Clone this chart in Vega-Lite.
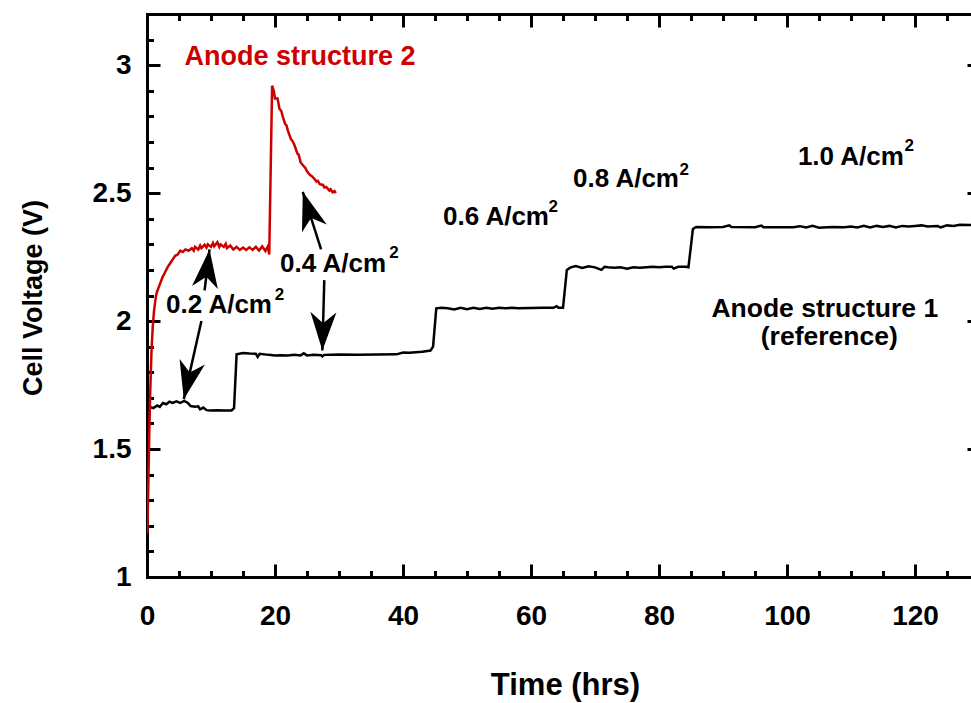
{
  "$schema": "https://vega.github.io/schema/vega-lite/v6.json",
  "width": 824,
  "height": 563,
  "autosize": {"type": "none"},
  "padding": {"left": 147, "top": 14, "right": 0, "bottom": 126},
  "background": "white",
  "config": {
    "view": {"stroke": null},
    "axis": {
      "grid": false, "domainColor": "black", "tickColor": "black", "labelColor": "black", "titleColor": "black",
      "labelFont": "Liberation Sans", "titleFont": "Liberation Sans", "labelFontWeight": "bold", "titleFontWeight": "bold",
      "domainWidth": 3, "tickWidth": 3, "domainCap": "square", "tickCap": "butt", "labelFlush": false
    },
    "text": {"font": "Liberation Sans", "fontWeight": "bold"}
  },
  "datasets": {
    "anode1": [
      {"t":0.1,"v":1.60},{"t":0.4,"v":1.665},{"t":1.0,"v":1.66},{"t":1.6,"v":1.67},{"t":2.0,"v":1.665},{"t":2.5,"v":1.68},{"t":3.0,"v":1.675},{"t":3.5,"v":1.685},{"t":4.0,"v":1.68},{"t":4.6,"v":1.686},{"t":5.2,"v":1.68},{"t":5.8,"v":1.688},{"t":6.4,"v":1.68},{"t":6.8,"v":1.668},{"t":7.5,"v":1.665},{"t":8.0,"v":1.667},{"t":8.3,"v":1.655},{"t":8.8,"v":1.662},{"t":9.3,"v":1.652},{"t":10.0,"v":1.651},{"t":11.0,"v":1.652},{"t":12.0,"v":1.651},{"t":13.2,"v":1.651},{"t":13.6,"v":1.66},{"t":14.0,"v":1.87},{"t":15,"v":1.875},{"t":16,"v":1.873},{"t":17,"v":1.872},{"t":17.3,"v":1.86},{"t":17.6,"v":1.872},{"t":19,"v":1.868},{"t":20,"v":1.866},{"t":21,"v":1.867},{"t":22,"v":1.866},{"t":23,"v":1.868},{"t":24,"v":1.866},{"t":24.5,"v":1.874},{"t":25,"v":1.866},{"t":26,"v":1.868},{"t":27.2,"v":1.867},{"t":27.4,"v":1.862},{"t":27.7,"v":1.868},{"t":30,"v":1.869},{"t":33,"v":1.868},{"t":36,"v":1.869},{"t":39,"v":1.87},{"t":40,"v":1.877},{"t":41,"v":1.876},{"t":42,"v":1.878},{"t":43,"v":1.88},{"t":44.3,"v":1.885},{"t":44.7,"v":1.90},{"t":45.2,"v":2.05},{"t":46,"v":2.052},{"t":47,"v":2.05},{"t":48,"v":2.045},{"t":49,"v":2.052},{"t":50,"v":2.046},{"t":51,"v":2.052},{"t":52,"v":2.047},{"t":53,"v":2.052},{"t":54,"v":2.048},{"t":55,"v":2.052},{"t":56,"v":2.05},{"t":57,"v":2.052},{"t":58,"v":2.05},{"t":60,"v":2.051},{"t":62,"v":2.052},{"t":63.5,"v":2.052},{"t":64.0,"v":2.058},{"t":64.3,"v":2.052},{"t":65.0,"v":2.052},{"t":65.6,"v":2.2},{"t":66.2,"v":2.21},{"t":67,"v":2.215},{"t":68,"v":2.208},{"t":69,"v":2.214},{"t":70,"v":2.21},{"t":71,"v":2.2},{"t":71.5,"v":2.212},{"t":72,"v":2.21},{"t":73,"v":2.208},{"t":74,"v":2.21},{"t":75,"v":2.205},{"t":76,"v":2.21},{"t":77,"v":2.208},{"t":78,"v":2.21},{"t":79,"v":2.212},{"t":80,"v":2.21},{"t":81,"v":2.212},{"t":82,"v":2.212},{"t":82.3,"v":2.205},{"t":83,"v":2.212},{"t":84.2,"v":2.212},{"t":84.6,"v":2.21},{"t":85.3,"v":2.36},{"t":85.8,"v":2.368},{"t":88,"v":2.367},{"t":90,"v":2.368},{"t":91,"v":2.374},{"t":91.3,"v":2.368},{"t":95,"v":2.367},{"t":96,"v":2.373},{"t":96.3,"v":2.367},{"t":100,"v":2.367},{"t":101,"v":2.367},{"t":102,"v":2.371},{"t":103,"v":2.366},{"t":104,"v":2.372},{"t":105,"v":2.365},{"t":107,"v":2.368},{"t":109,"v":2.367},{"t":110,"v":2.37},{"t":111,"v":2.366},{"t":112,"v":2.372},{"t":113,"v":2.366},{"t":114,"v":2.372},{"t":115,"v":2.368},{"t":116,"v":2.372},{"t":117,"v":2.366},{"t":118,"v":2.372},{"t":119,"v":2.37},{"t":120,"v":2.372},{"t":121,"v":2.374},{"t":122,"v":2.37},{"t":123.5,"v":2.372},{"t":124,"v":2.366},{"t":125,"v":2.374},{"t":126,"v":2.372},{"t":127,"v":2.376},{"t":128.75,"v":2.375}
    ],
    "anode2": [
      {"t":0.05,"v":1.17},{"t":0.2,"v":1.35},{"t":0.35,"v":1.55},{"t":0.5,"v":1.72},{"t":0.7,"v":1.88},{"t":0.9,"v":1.98},{"t":1.1,"v":2.04},{"t":1.3,"v":2.08},{"t":1.5,"v":2.11},{"t":1.8,"v":2.13},{"t":2.1,"v":2.15},{"t":2.4,"v":2.17},{"t":2.8,"v":2.19},{"t":3.2,"v":2.21},{"t":3.6,"v":2.225},{"t":4.0,"v":2.24},{"t":4.4,"v":2.255},{"t":4.8,"v":2.26},{"t":5.2,"v":2.275},{"t":5.6,"v":2.27},{"t":6.0,"v":2.28},{"t":6.5,"v":2.275},{"t":7.0,"v":2.285},{"t":7.3,"v":2.275},{"t":7.5,"v":2.29},{"t":8.0,"v":2.28},{"t":8.3,"v":2.295},{"t":8.5,"v":2.285},{"t":9.0,"v":2.298},{"t":9.3,"v":2.287},{"t":9.5,"v":2.3},{"t":10.0,"v":2.29},{"t":10.3,"v":2.305},{"t":10.5,"v":2.292},{"t":11.0,"v":2.308},{"t":11.3,"v":2.29},{"t":11.5,"v":2.3},{"t":12.0,"v":2.29},{"t":12.3,"v":2.302},{"t":12.5,"v":2.285},{"t":13.0,"v":2.295},{"t":13.5,"v":2.28},{"t":14.0,"v":2.29},{"t":14.5,"v":2.278},{"t":15.0,"v":2.287},{"t":15.5,"v":2.278},{"t":16.0,"v":2.288},{"t":16.5,"v":2.278},{"t":17.0,"v":2.29},{"t":17.5,"v":2.276},{"t":18.0,"v":2.292},{"t":18.5,"v":2.274},{"t":18.9,"v":2.293},{"t":19.1,"v":2.26},{"t":19.55,"v":2.92},{"t":19.8,"v":2.90},{"t":20.0,"v":2.87},{"t":20.4,"v":2.87},{"t":20.7,"v":2.83},{"t":21.0,"v":2.82},{"t":21.2,"v":2.80},{"t":21.6,"v":2.77},{"t":21.8,"v":2.765},{"t":22.0,"v":2.745},{"t":22.5,"v":2.71},{"t":22.7,"v":2.705},{"t":23.0,"v":2.69},{"t":23.5,"v":2.655},{"t":23.7,"v":2.65},{"t":24.0,"v":2.62},{"t":24.5,"v":2.605},{"t":24.7,"v":2.6},{"t":25.0,"v":2.585},{"t":25.5,"v":2.57},{"t":25.7,"v":2.568},{"t":26.0,"v":2.56},{"t":26.5,"v":2.545},{"t":26.7,"v":2.548},{"t":27.0,"v":2.535},{"t":27.5,"v":2.532},{"t":27.7,"v":2.522},{"t":28.0,"v":2.524},{"t":28.5,"v":2.51},{"t":28.7,"v":2.515},{"t":29.0,"v":2.503},{"t":29.3,"v":2.508},{"t":29.5,"v":2.50}
    ],
    "arrows": [
      {"t":9.0,"v":2.12,"t2":9.77,"v2":2.28},
      {"t":8.5,"v":2.00,"t2":5.75,"v2":1.695},
      {"t":27.2,"v":2.28,"t2":24.34,"v2":2.505},
      {"t":27.7,"v":2.16,"t2":27.4,"v2":1.885}
    ],
    "currents": [
      {"t":2.97,"v":2.031,"label":"0.2 A/cm"},
      {"t":20.8,"v":2.191,"label":"0.4 A/cm"},
      {"t":46.25,"v":2.375,"label":"0.6 A/cm"},
      {"t":66.56,"v":2.523,"label":"0.8 A/cm"},
      {"t":101.7,"v":2.609,"label":"1.0 A/cm"}
    ],
    "sups": [
      {"t":19.95,"v":2.082,"label":"2"},
      {"t":37.85,"v":2.246,"label":"2"},
      {"t":62.75,"v":2.426,"label":"2"},
      {"t":83.2,"v":2.570,"label":"2"},
      {"t":118.35,"v":2.664,"label":"2"}
    ],
    "names": [
      {"t":105.9,"v":2.016,"label":"Anode structure 1"},
      {"t":106.6,"v":1.906,"label":"(reference)"}
    ],
    "redname": [
      {"t":23.9,"v":3.0,"label":"Anode structure 2"}
    ]
  },
  "resolve": {"axis": {"x": "independent", "y": "independent"}},
  "layer": [
    {
      "data": {"name": "anode1"},
      "mark": {"type": "line", "color": "black", "strokeWidth": 2.5, "clip": true},
      "encoding": {
        "x": {"field": "t", "type": "quantitative", "scale": {"domain": [0, 128.75], "nice": false, "zero": false},
          "axis": {"orient": "bottom", "values": [0,20,40,60,80,100,120], "format": "d", "tickSize": -13, "labelPadding": 38, "labelFontSize": 28,
            "title": "Time (hrs)", "titleFontSize": 31, "titleX": 418, "titleY": 117, "titleBaseline": "alphabetic", "titleAlign": "center"}},
        "y": {"field": "v", "type": "quantitative", "scale": {"domain": [1, 3.2], "nice": false, "zero": false},
          "axis": {"orient": "left", "values": [1,1.5,2,2.5,3], "format": ".1~f", "tickSize": -13, "labelPadding": 29, "labelFontSize": 28,
            "title": "Cell Voltage (V)", "titleFontSize": 27, "titleX": -106, "titleY": 283.5, "titleBaseline": "alphabetic", "titleAlign": "center", "titleAngle": -90}}
      }
    },
    {
      "data": {"name": "anode2"},
      "mark": {"type": "line", "color": "#cc0000", "strokeWidth": 2.5, "clip": true},
      "encoding": {
        "x": {"field": "t", "type": "quantitative", "scale": {"domain": [0, 128.75], "nice": false, "zero": false},
          "axis": {"orient": "bottom", "values": [5,10,15,25,30,35,45,50,55,65,70,75,85,90,95,105,110,115,125], "tickSize": -6.5, "labels": false, "domain": false, "title": null}},
        "y": {"field": "v", "type": "quantitative", "scale": {"domain": [1, 3.2], "nice": false, "zero": false},
          "axis": {"orient": "left", "values": [1.1,1.2,1.3,1.4,1.6,1.7,1.8,1.9,2.1,2.2,2.3,2.4,2.6,2.7,2.8,2.9,3.1], "tickSize": -6.5, "labels": false, "domain": false, "title": null}}
      }
    },
    {
      "data": {"name": "arrows"},
      "mark": {"type": "rule", "color": "black", "strokeWidth": 2.5},
      "encoding": {
        "x": {"field": "t", "type": "quantitative", "scale": {"domain": [0, 128.75], "nice": false, "zero": false},
          "axis": {"orient": "top", "values": [0,20,40,60,80,100,120], "tickSize": -13, "labels": false, "domain": true, "title": null}},
        "y": {"field": "v", "type": "quantitative", "scale": {"domain": [1, 3.2], "nice": false, "zero": false},
          "axis": {"orient": "right", "offset": 9, "values": [1,1.5,2,2.5,3], "tickSize": -13, "labels": false, "domain": true, "title": null}},
        "x2": {"field": "t2"},
        "y2": {"field": "v2"}
      }
    },
    {
      "data": {"name": "arrows"},
      "transform": [{"calculate": "atan2((datum.t2 - datum.t) * 6.4, (datum.v2 - datum.v) * 256) * 180 / PI", "as": "ang"}],
      "mark": {"type": "point", "shape": "M0,0 L0.95,2.8 L0,2 L-0.95,2.8 Z", "filled": true, "size": 750, "color": "black", "opacity": 1, "strokeWidth": 0},
      "encoding": {
        "x": {"field": "t2", "type": "quantitative", "scale": {"domain": [0, 128.75], "nice": false, "zero": false},
          "axis": {"orient": "top", "values": [5,10,15,25,30,35,45,50,55,65,70,75,85,90,95,105,110,115,125], "tickSize": -6.5, "labels": false, "domain": false, "title": null}},
        "y": {"field": "v2", "type": "quantitative", "scale": {"domain": [1, 3.2], "nice": false, "zero": false},
          "axis": {"orient": "right", "offset": 9, "values": [1.1,1.2,1.3,1.4,1.6,1.7,1.8,1.9,2.1,2.2,2.3,2.4,2.6,2.7,2.8,2.9,3.1], "tickSize": -6.5, "labels": false, "domain": false, "title": null}},
        "angle": {"field": "ang", "type": "quantitative", "scale": null}
      }
    },
    {
      "data": {"name": "currents"},
      "mark": {"type": "text", "align": "left", "baseline": "alphabetic", "fontSize": 26, "color": "black"},
      "encoding": {
        "x": {"field": "t", "type": "quantitative", "axis": null},
        "y": {"field": "v", "type": "quantitative", "axis": null},
        "text": {"field": "label"}
      }
    },
    {
      "data": {"name": "sups"},
      "mark": {"type": "text", "align": "left", "baseline": "alphabetic", "fontSize": 17, "color": "black"},
      "encoding": {
        "x": {"field": "t", "type": "quantitative", "axis": null},
        "y": {"field": "v", "type": "quantitative", "axis": null},
        "text": {"field": "label"}
      }
    },
    {
      "data": {"name": "names"},
      "mark": {"type": "text", "align": "center", "baseline": "alphabetic", "fontSize": 26.5, "color": "black"},
      "encoding": {
        "x": {"field": "t", "type": "quantitative", "axis": null},
        "y": {"field": "v", "type": "quantitative", "axis": null},
        "text": {"field": "label"}
      }
    },
    {
      "data": {"name": "redname"},
      "mark": {"type": "text", "align": "center", "baseline": "alphabetic", "fontSize": 27, "color": "#cc0000"},
      "encoding": {
        "x": {"field": "t", "type": "quantitative", "axis": null},
        "y": {"field": "v", "type": "quantitative", "axis": null},
        "text": {"field": "label"}
      }
    }
  ]
}
